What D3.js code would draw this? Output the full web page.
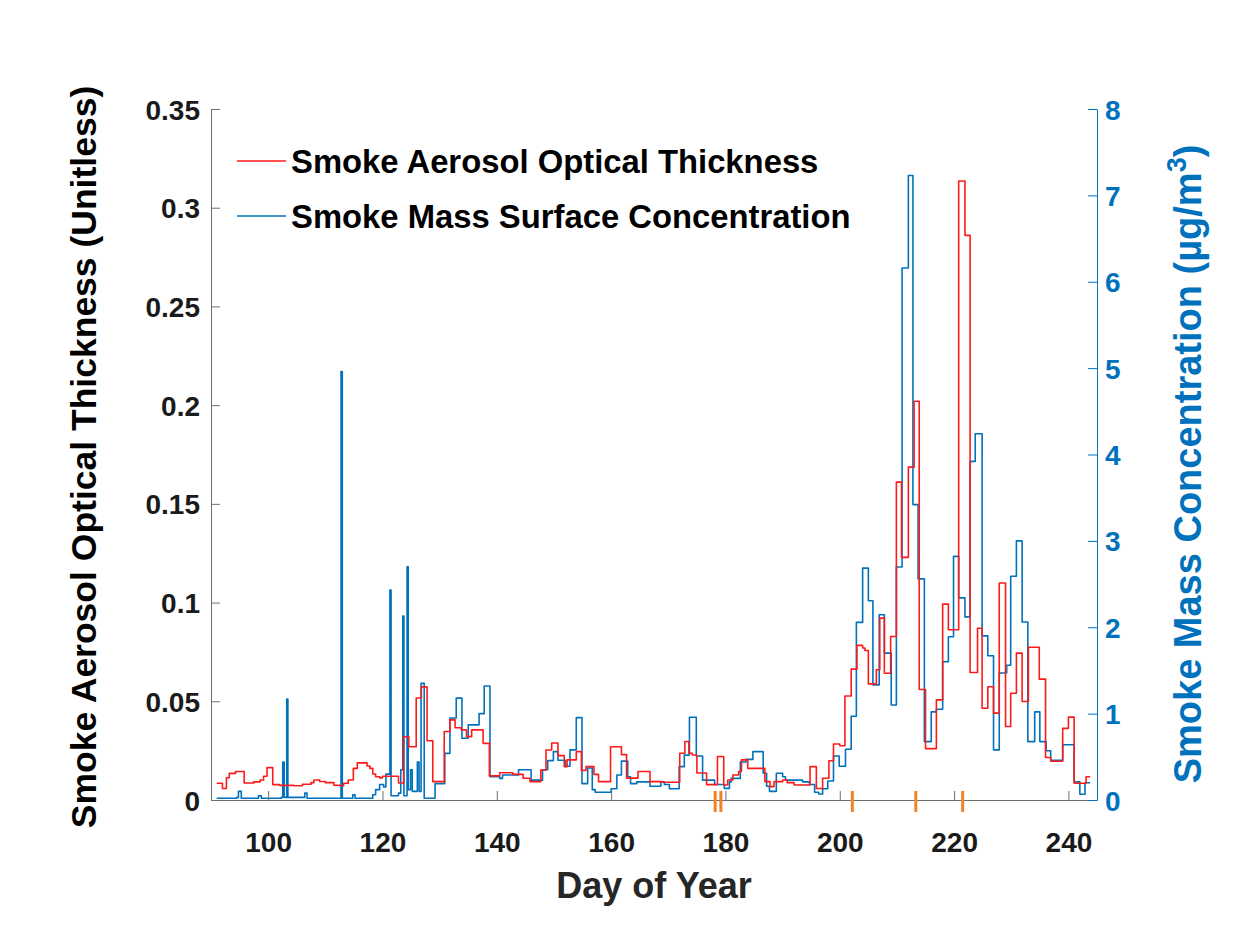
<!DOCTYPE html>
<html>
<head>
<meta charset="utf-8">
<script src="https://cdn.jsdelivr.net/npm/d3@7"></script>
<style>
  html, body { margin: 0; padding: 0; background: #fff; }
  svg { display: block; }
  text { font-family: "Liberation Sans", Arial, Helvetica, sans-serif; font-weight: bold; }
</style>
</head>
<body>
<svg id="chart" width="1251" height="937"></svg>
<script>
// ---------------- DATA ----------------
const seriesNames = ["Smoke Aerosol Optical Thickness", "Smoke Mass Surface Concentration"];
const xTicks = [100, 120, 140, 160, 180, 200, 220, 240];
const leftTicks = [0, 0.05, 0.1, 0.15, 0.2, 0.25, 0.3, 0.35];
const rightTicks = [0, 1, 2, 3, 4, 5, 6, 7, 8];
const markerDays = [178.2, 179.2, 202.2, 213.3, 221.5];

// Smoke AOT (left axis) - step change points (day, value)
const aotDays = [91.0, 92.0, 92.7, 93.2, 94.3, 95.8, 97.5, 98.6, 99.2, 99.8, 100.8, 102.0, 104.5, 106.0, 107.5, 108.0, 109.0, 110.0, 111.5, 112.5, 113.2, 114.0, 114.9, 115.6, 117.3, 117.8, 118.3, 118.8, 119.5, 120.0, 122.8, 123.7, 124.6, 125.9, 126.8, 127.8, 128.8, 130.8, 131.8, 132.7, 133.8, 134.7, 135.6, 137.6, 138.7, 140.5, 142.8, 144.6, 145.8, 147.7, 148.6, 149.6, 150.7, 151.8, 152.3, 153.9, 154.8, 155.6, 157.0, 157.8, 159.9, 161.8, 162.7, 164.7, 166.8, 169.0, 172.0, 172.9, 173.6, 174.2, 175.0, 176.7, 178.6, 179.7, 180.4, 181.3, 182.3, 182.8, 183.9, 186.9, 187.8, 188.5, 190.0, 190.8, 192.0, 194.8, 195.9, 197.0, 198.1, 198.9, 200.0, 200.9, 202.0, 203.0, 204.0, 204.4, 205.0, 206.4, 207.0, 207.8, 208.9, 209.9, 210.8, 212.0, 213.0, 213.9, 215.0, 216.9, 218.0, 219.0, 220.8, 221.9, 222.8, 224.1, 224.9, 225.9, 226.9, 227.9, 229.0, 229.9, 230.9, 231.9, 233.0, 234.9, 236.0, 236.9, 239.0, 240.0, 241.0, 243.1, 243.8];
const aotValues = [0.0085, 0.0058, 0.0113, 0.0135, 0.0144, 0.0086, 0.0092, 0.0101, 0.0120, 0.0164, 0.0078, 0.0074, 0.0072, 0.0080, 0.0088, 0.0101, 0.0094, 0.0088, 0.0075, 0.0072, 0.0085, 0.0101, 0.0160, 0.0188, 0.0172, 0.0160, 0.0132, 0.0118, 0.0112, 0.0120, 0.0086, 0.0320, 0.0270, 0.0517, 0.0573, 0.0300, 0.0093, 0.0347, 0.0406, 0.0366, 0.0355, 0.0321, 0.0355, 0.0287, 0.0122, 0.0138, 0.0130, 0.0110, 0.0093, 0.0152, 0.0253, 0.0289, 0.0225, 0.0169, 0.0203, 0.0245, 0.0150, 0.0169, 0.0130, 0.0093, 0.0270, 0.0230, 0.0111, 0.0144, 0.0093, 0.0090, 0.0237, 0.0296, 0.0237, 0.0228, 0.0137, 0.0078, 0.0220, 0.0076, 0.0101, 0.0127, 0.0144, 0.0203, 0.0160, 0.0093, 0.0068, 0.0093, 0.0101, 0.0088, 0.0076, 0.0169, 0.0058, 0.0110, 0.0199, 0.0284, 0.0275, 0.0527, 0.0663, 0.0783, 0.0770, 0.0757, 0.0588, 0.0660, 0.0921, 0.0642, 0.0828, 0.1610, 0.1229, 0.1686, 0.2020, 0.0560, 0.0260, 0.0507, 0.0992, 0.0862, 0.3135, 0.2860, 0.0646, 0.0870, 0.0465, 0.0574, 0.0440, 0.1099, 0.0372, 0.0541, 0.0744, 0.0499, 0.0774, 0.0612, 0.0215, 0.0196, 0.0363, 0.0420, 0.0085, 0.0118, 0.0118];

// Smoke mass surface concentration (right axis, ug/m3) - step change points
const pmDays = [91.0, 94.5, 94.8, 95.3, 98.3, 98.8, 102.3, 102.55, 102.8, 103.25, 103.45, 106.4, 106.8, 112.75, 112.97, 114.8, 115.2, 118.3, 118.8, 119.5, 120.2, 120.6, 121.3, 121.5, 122.8, 123.2, 123.55, 123.75, 124.3, 124.5, 124.9, 125.2, 126.1, 126.4, 126.75, 127.3, 129.2, 130.9, 131.8, 132.9, 133.9, 135.0, 136.9, 137.8, 138.8, 140.5, 141.0, 143.8, 146.0, 148.0, 148.9, 149.9, 150.7, 152.0, 152.8, 153.9, 154.9, 155.9, 156.7, 157.2, 160.0, 161.0, 161.8, 162.9, 163.4, 164.5, 166.8, 168.7, 169.3, 170.2, 171.9, 172.8, 173.7, 174.9, 176.0, 178.1, 179.8, 180.7, 181.0, 182.6, 183.6, 184.8, 186.6, 187.2, 187.7, 188.9, 190.0, 190.5, 193.5, 194.7, 195.6, 196.3, 197.0, 197.9, 198.9, 199.9, 201.0, 202.0, 202.9, 204.0, 205.0, 205.8, 206.9, 207.8, 209.0, 209.9, 210.9, 212.0, 212.8, 213.7, 214.8, 216.0, 216.9, 218.0, 219.0, 219.9, 220.8, 221.9, 222.8, 223.7, 224.9, 225.9, 226.9, 227.9, 229.2, 229.9, 230.9, 231.9, 232.9, 234.1, 235.0, 236.1, 236.9, 239.0, 241.0, 242.0, 242.9, 243.8];
const pmValues = [0.02, 0.03, 0.10, 0.02, 0.05, 0.02, 0.03, 0.44, 0.03, 1.17, 0.03, 0.08, 0.02, 4.96, 0.02, 0.06, 0.02, 0.06, 0.12, 0.18, 0.15, 0.30, 2.43, 0.05, 0.08, 0.35, 2.13, 0.05, 2.70, 0.12, 0.35, 0.10, 0.44, 0.10, 1.35, 0.02, 0.19, 0.54, 0.95, 1.18, 0.715, 0.87, 1.00, 1.32, 0.27, 0.25, 0.29, 0.35, 0.23, 0.35, 0.456, 0.56, 0.46, 0.39, 0.58, 0.954, 0.19, 0.37, 0.12, 0.09, 0.13, 0.29, 0.45, 0.27, 0.19, 0.21, 0.16, 0.21, 0.18, 0.13, 0.386, 0.52, 0.958, 0.51, 0.23, 0.18, 0.135, 0.21, 0.25, 0.44, 0.47, 0.56, 0.31, 0.16, 0.10, 0.31, 0.27, 0.23, 0.21, 0.18, 0.09, 0.07, 0.13, 0.22, 0.51, 0.39, 0.587, 0.97, 2.056, 2.685, 2.306, 1.333, 2.144, 1.70, 1.10, 2.697, 6.16, 7.23, 3.42, 2.56, 0.676, 1.02, 1.05, 1.60, 1.89, 2.82, 2.34, 2.12, 3.92, 4.24, 1.90, 1.67, 0.58, 1.47, 1.56, 2.59, 3.00, 2.06, 0.676, 1.02, 0.676, 0.57, 0.46, 0.64, 0.21, 0.066, 0.20, 0.20];

// ---------------- CHART ----------------
const svg = d3.select("#chart");
const L = 211, R = 1097, T = 109, B = 800;
const red = "#FF1A1A", blue = "#0072BD", orange = "#F0822A", axisGray = "#6e6e6e";

const x = d3.scaleLinear().domain([90, 245]).range([L, R]);
const yL = d3.scaleLinear().domain([0, 0.35]).range([B, T]);
const yR = d3.scaleLinear().domain([0, 8]).range([B, T]);

svg.append("rect").attr("width", 1251).attr("height", 937).attr("fill", "#fff");

// Lines
const aotData = aotDays.map((d, i) => [d, aotValues[i]]);
const pmData = pmDays.map((d, i) => [d, pmValues[i]]);

svg.append("path").datum(pmData)
  .attr("fill", "none").attr("stroke", blue).attr("stroke-width", 1.6).attr("stroke-linejoin", "round")
  .attr("d", d3.line().x(d => x(d[0])).y(d => yR(d[1])).curve(d3.curveStepAfter));

svg.append("path").datum(aotData)
  .attr("fill", "none").attr("stroke", red).attr("stroke-width", 1.6).attr("stroke-linejoin", "round")
  .attr("d", d3.line().x(d => x(d[0])).y(d => yL(d[1])).curve(d3.curveStepAfter));

// Bottom axis
const gx = svg.append("g").attr("transform", `translate(0,${B})`)
  .call(d3.axisBottom(x).tickValues(xTicks).tickSizeInner(-9).tickSizeOuter(0).tickPadding(0).tickFormat(d3.format("d")));
gx.select(".domain").attr("stroke", axisGray).attr("stroke-width", 1);
gx.selectAll(".tick line").attr("stroke", axisGray).attr("stroke-width", 1);
gx.selectAll(".tick text").attr("fill", "#1a1a1a").attr("font-size", 28).attr("y", 52).attr("dy", 0)
  .attr("font-family", "'Liberation Sans', Arial, sans-serif").attr("font-weight", "bold");

// Left axis
const gl = svg.append("g").attr("transform", `translate(${L},0)`)
  .call(d3.axisLeft(yL).tickValues(leftTicks).tickSizeInner(-9).tickSizeOuter(0).tickPadding(11).tickFormat(d => d === 0 ? "0" : String(d)));
gl.select(".domain").attr("stroke", axisGray).attr("stroke-width", 1);
gl.selectAll(".tick line").attr("stroke", axisGray).attr("stroke-width", 1);
gl.selectAll(".tick text").attr("fill", "#1a1a1a").attr("font-size", 28).attr("dy", "0.36em")
  .attr("font-family", "'Liberation Sans', Arial, sans-serif").attr("font-weight", "bold");

// Right axis
const gr = svg.append("g").attr("transform", `translate(${R},0)`)
  .call(d3.axisRight(yR).tickValues(rightTicks).tickSizeInner(-9).tickSizeOuter(0).tickPadding(8).tickFormat(d3.format("d")));
gr.select(".domain").attr("stroke", blue).attr("stroke-width", 1);
gr.selectAll(".tick line").attr("stroke", blue).attr("stroke-width", 1);
gr.selectAll(".tick text").attr("fill", blue).attr("font-size", 28).attr("dy", "0.36em")
  .attr("font-family", "'Liberation Sans', Arial, sans-serif").attr("font-weight", "bold");

// Orange markers on x axis
svg.append("g").selectAll("line").data(markerDays).join("line")
  .attr("x1", d => x(d)).attr("x2", d => x(d))
  .attr("y1", B - 9).attr("y2", B + 12)
  .attr("stroke", orange).attr("stroke-width", 3);

// Axis titles
svg.append("text").attr("x", (L + R) / 2).attr("y", 898).attr("text-anchor", "middle")
  .attr("font-size", 36).attr("fill", "#262626").text("Day of Year");

svg.append("text").attr("transform", `translate(96,457) rotate(-90)`).attr("text-anchor", "middle")
  .attr("font-size", 35.5).attr("fill", "#000").text("Smoke Aerosol Optical Thickness (Unitless)");

const rt = svg.append("text").attr("transform", `translate(1201,464) rotate(-90)`).attr("text-anchor", "middle")
  .attr("font-size", 38).attr("fill", blue);
rt.append("tspan").text("Smoke Mass Concentration (µg/m");
rt.append("tspan").attr("font-size", 27).attr("dy", -15).text("3");
rt.append("tspan").attr("dy", 15).text(")");

// Legend
const legendRows = [{ name: seriesNames[0], color: red, y: 161 }, { name: seriesNames[1], color: blue, y: 216 }];
const lg = svg.append("g");
legendRows.forEach(r => {
  lg.append("line").attr("x1", 237).attr("x2", 286).attr("y1", r.y).attr("y2", r.y)
    .attr("stroke", r.color).attr("stroke-width", 1.5);
  lg.append("text").attr("x", 291).attr("y", r.y).attr("dy", "0.36em")
    .attr("font-size", 32.8).attr("fill", "#000").text(r.name);
});
</script>
</body>
</html>
